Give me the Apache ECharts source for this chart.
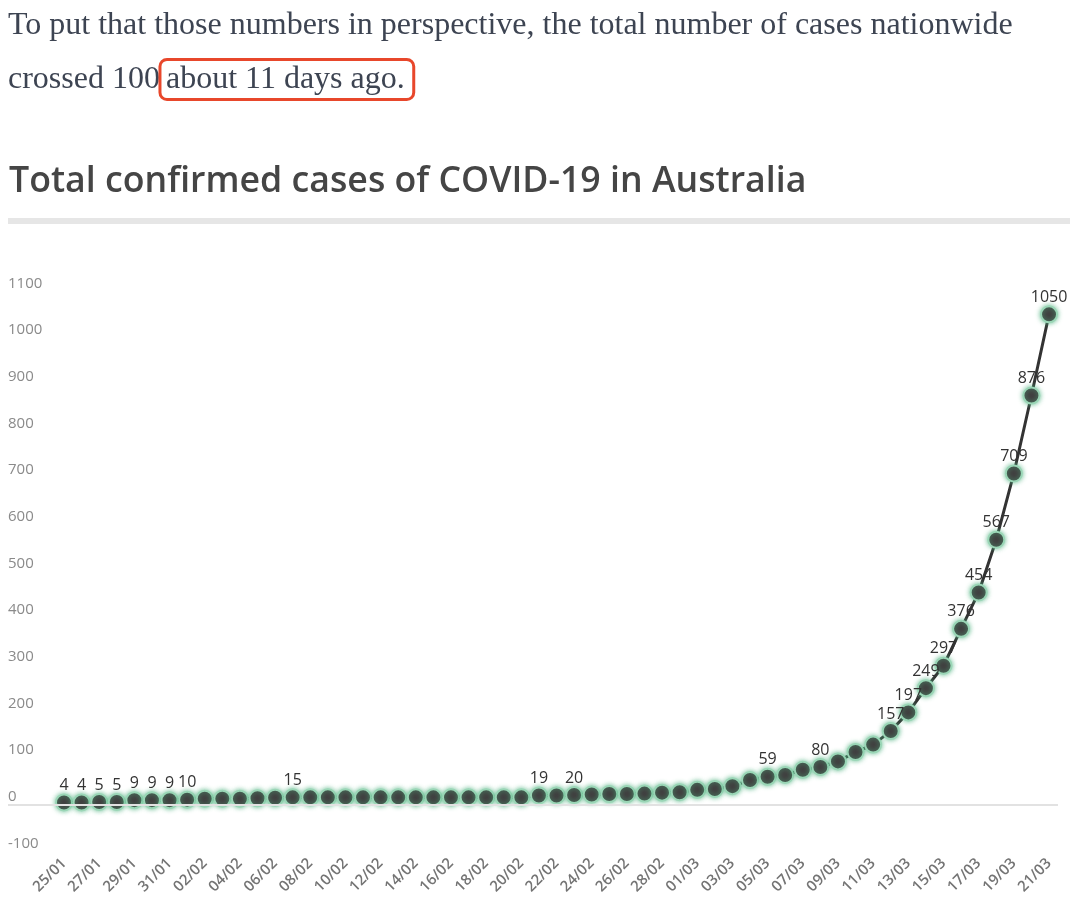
<!DOCTYPE html>
<html>
<head>
<meta charset="utf-8">
<script src="https://cdn.jsdelivr.net/npm/echarts@6/dist/echarts.min.js"></script>
<style>
html,body{margin:0;padding:0;background:#fff;}
#chart{width:1080px;height:909px;}
</style>
</head>
<body>
<div id="chart"></div>
<script>
const introLine1 = 'To put that those numbers in perspective, the total number of cases nationwide';
const introLine2a = 'crossed 100';
const introLine2b = 'about 11 days ago.';
const chartTitle = 'Total confirmed cases of COVID-19 in Australia';

const dates = ['25/01','26/01','27/01','28/01','29/01','30/01','31/01',
  '01/02','02/02','03/02','04/02','05/02','06/02','07/02','08/02','09/02','10/02','11/02','12/02','13/02','14/02',
  '15/02','16/02','17/02','18/02','19/02','20/02','21/02','22/02','23/02','24/02','25/02','26/02','27/02','28/02','29/02',
  '01/03','02/03','03/03','04/03','05/03','06/03','07/03','08/03','09/03','10/03','11/03','12/03','13/03','14/03',
  '15/03','16/03','17/03','18/03','19/03','20/03','21/03'];

const cases = [4,4,5,5,9,9,9,10,12,12,12,13,14,15,
  15,15,15,15,15,15,15,15,15,15,15,15,15,
  19,19,20,21,22,22,23,25,26,
  31,33,39,52,59,63,74,80,92,112,128,157,197,249,297,376,454,567,709,876,1050];

const labelledIdx = [0,1,2,3,4,5,6,7,13,27,29,40,43,47,48,49,50,51,52,53,54,55,56];

const yTicks = {min:-100, max:1100, step:100};

const chart = echarts.init(document.getElementById('chart'));

const seriesData = cases.map((v,i)=>({
  value:[i,v],
  label:{show: labelledIdx.indexOf(i) >= 0}
}));
const xTickValues = dates.map((d,i)=>i).filter(i=>i%2===0);

const serif = '32px "Liberation Serif"';
chart.setOption({
  backgroundColor:'#fff',
  animation:false,
  graphic:[
    {type:'text', left:8, top:10, style:{text:introLine1, font:serif, fill:'#3d4452'}},
    {type:'text', left:8, top:58, style:{
      text: introLine2a + '{b|' + introLine2b + '}',
      font:serif, fill:'#3d4452',
      rich:{b:{font:serif, fill:'#3d4452', borderColor:'#e8472b', borderWidth:3, borderRadius:7, padding:[4,9,4,6]}}
    }},
    {type:'rect', left:8, top:218, shape:{width:1062, height:6}, style:{fill:'#e6e6e6'}}
  ],
  title:{
    text:chartTitle, left:4, top:159,
    textStyle:{fontFamily:'Open Sans', fontSize:35.7, fontWeight:600, color:'#454545'}
  },
  grid:{left:8, right:22, top:291, bottom:58, containLabel:false},
  xAxis:{
    type:'value', min:-3.184, max:56.51,
    axisLine:{show:false}, axisTick:{show:false}, splitLine:{show:false},
    axisLabel:{
      customValues:xTickValues, rotate:45, margin:10,
      formatter:v=>dates[v], color:'#747474', fontSize:15, fontWeight:600, fontFamily:'Open Sans'
    }
  },
  yAxis:{
    type:'value', min:yTicks.min, max:yTicks.max, interval:yTicks.step,
    axisLine:{show:false}, axisTick:{show:false}, splitLine:{show:false},
    axisLabel:{inside:true, margin:0, verticalAlign:'bottom', formatter:v=>String(v),
      color:'#8a8a8a', fontSize:15, fontFamily:'Open Sans'}
  },
  series:[{
    type:'line',
    data:seriesData,
    symbol:'circle', symbolSize:16,
    lineStyle:{color:'#333', width:3},
    itemStyle:{color:'#404040', borderColor:'#9ad6b6', borderWidth:2, shadowBlur:5, shadowColor:'rgba(80,180,130,0.8)'},
    label:{position:'top', distance:0, color:'#333', fontSize:16, fontFamily:'Open Sans'},
    markLine:{
      silent:true, symbol:'none', animation:false,
      label:{show:false},
      lineStyle:{color:'#e2e2e2', width:2, type:'solid'},
      data:[{yAxis:0}]
    },
    z:3
  }]
});
</script>
</body>
</html>
